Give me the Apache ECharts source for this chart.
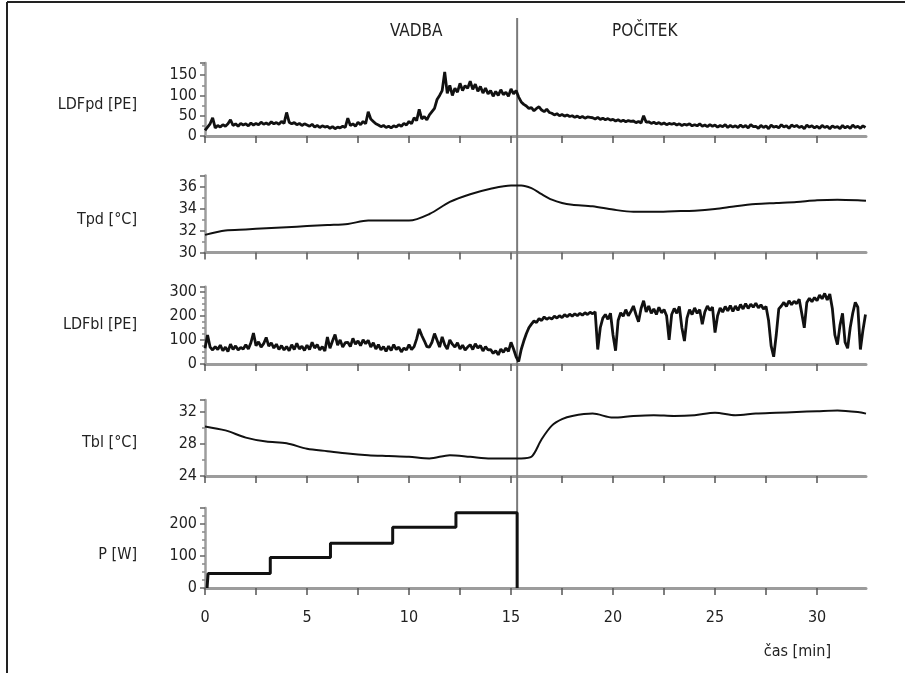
<!DOCTYPE html>
<html>
<head>
<meta charset="utf-8">
<script src="https://cdn.jsdelivr.net/npm/echarts@6/dist/echarts.min.js"></script>
<style>
  html, body { margin: 0; padding: 0; background: #fff; }
  #chart { width: 905px; height: 673px; }
</style>
</head>
<body>
<div id="chart"></div>
<script>
// laser doppler traces, one value every 1/8 minute (one row = one minute)
var LDF_STEP = 0.125;
var ldfpd = [
  14, 22, 30, 45, 20, 26, 22, 28,
  24, 30, 40, 26, 30, 24, 31, 27,
  30, 25, 32, 27, 31, 28, 34, 29,
  32, 28, 35, 30, 33, 29, 36, 31,
  58, 34, 30, 33, 28, 31, 26, 30,
  27, 24, 29, 22, 26, 21, 25, 22,
  24, 19, 23, 18, 22, 20, 24, 21,
  44, 26, 30, 24, 34, 28, 36, 30,
  60, 42, 36, 30, 27, 23, 26, 21,
  24, 20, 25, 22, 28, 24, 31, 27,
  36, 30, 45, 38, 66, 42, 48, 40,
  52, 60, 68, 90, 100, 112, 158, 105,
  125, 100, 118, 108, 130, 112, 124, 118,
  135, 115, 128, 110, 122, 106, 118, 104,
  112, 98, 110, 100, 114, 102, 108, 98,
  116, 104, 112, 96, 84, 78, 74, 68,
  70, 62, 68, 72, 64, 60, 66, 58,
  56, 52, 55, 50, 53, 49, 52, 48,
  50, 46, 49, 45, 48, 44, 47, 46,
  45, 42, 46, 41, 44, 40, 43, 39,
  41, 37, 40, 36, 39, 35, 38, 36,
  37, 33, 36, 32, 50, 34, 35, 31,
  34, 30, 33, 29, 32, 28, 31, 29,
  31, 27, 30, 26, 29, 27, 30, 25,
  28, 25, 30, 24, 27, 23, 28, 24,
  27, 22, 26, 23, 28, 21, 26, 22,
  25, 21, 27, 22, 26, 20, 28, 23,
  24, 19, 26, 21, 25, 18, 27, 22,
  24, 20, 28, 22, 25, 19, 27, 23,
  26, 21, 24, 18, 27, 22, 25, 20,
  24, 19, 26, 21, 24, 18, 25, 21,
  23, 18, 26, 20, 24, 19, 27, 21,
  24, 19, 25, 21
];
var ldfbl = [
  65, 120, 70, 58, 72, 60, 78, 55,
  70, 52, 82, 60, 75, 58, 68, 62,
  80, 62, 88, 128, 76, 92, 70, 84,
  110, 74, 88, 66, 82, 60, 76, 58,
  72, 55, 80, 60, 86, 62, 74, 56,
  78, 60, 90, 66, 80, 58, 72, 54,
  112, 65, 95, 122, 78, 100, 70, 88,
  90, 72, 106, 82, 96, 76, 100, 84,
  98, 70, 88, 62, 80, 58, 72, 52,
  74, 56, 80, 60, 70, 50, 66, 58,
  80, 60, 72, 104, 145, 118, 96, 72,
  70, 90, 126, 98, 70, 112, 80, 62,
  100, 82, 70, 88, 62, 78, 58, 70,
  80, 60, 84, 66, 76, 54, 72, 58,
  60, 44, 55, 38, 62, 48, 66, 52,
  90, 62, 30, 10, 60, 95, 125, 150,
  165, 178, 172, 188, 180, 195, 185, 192,
  186, 198, 190, 200, 192, 204, 196, 206,
  198, 208, 200, 210, 202, 212, 205, 214,
  208, 216, 60, 150, 190, 205, 185, 210,
  120, 55, 180, 212, 198, 225, 200, 218,
  240, 205, 175, 230, 262, 215, 240, 210,
  228, 205, 235, 212, 225, 200, 100, 205,
  230, 210, 238, 150, 95, 190, 225, 205,
  232, 210, 225, 165, 215, 240, 222, 235,
  130, 200, 232, 215, 238, 220, 242, 218,
  240, 222, 246, 228, 250, 230, 248, 235,
  252, 232, 245, 228, 238, 180, 75, 30,
  120, 228, 240, 255, 238, 262, 245, 260,
  250, 268, 210, 150, 255, 272, 258, 275,
  262, 285, 270, 292, 265, 290, 230, 120,
  80, 160, 210, 90, 65, 150, 210, 255,
  235, 60, 140, 205
];

// temperatures
var tTemp = [0, 1, 2, 3, 4, 5, 6, 7, 8, 9, 10, 11, 12, 13, 14, 15, 15.5, 16, 16.5, 17, 17.5, 18,
             19, 20, 21, 22, 23, 24, 25, 26, 27, 28, 29, 30, 31, 32, 32.4];
var tpd = [31.6, 32.0, 32.1, 32.2, 32.3, 32.4, 32.5, 32.6, 32.9, 32.9, 32.9, 33.5, 34.6, 35.3, 35.8, 36.1, 36.1, 35.85, 35.3, 34.8, 34.5, 34.35,
           34.2, 33.9, 33.7, 33.7, 33.75, 33.8, 33.95, 34.2, 34.4, 34.5, 34.6, 34.75, 34.8, 34.75, 34.7];
var tbl = [30.2, 29.7, 28.8, 28.3, 28.1, 27.4, 27.1, 26.8, 26.6, 26.5, 26.4, 26.2, 26.6, 26.4, 26.2, 26.2, 26.2, 26.4, 28.6, 30.3, 31.1, 31.5,
           31.8, 31.3, 31.5, 31.6, 31.5, 31.6, 31.9, 31.6, 31.8, 31.9, 32.0, 32.1, 32.2, 32.0, 31.8];

// load steps
var pTimes = [0.1, 0.15, 3.2, 6.15, 9.2, 12.3, 15.3];
var pWatts = [0, 45, 95, 140, 190, 235, 0];

var xTicks = [0, 2.5, 5, 7.5, 10, 12.5, 15, 17.5, 20, 22.5, 25, 27.5, 30];
var xLabels = [0, 5, 10, 15, 20, 25, 30];
var X_MAX = 32.4;
var switchTime = 15.3;   // end of exercise

var FONT = "'Liberation Sans Narrow', 'DejaVu Sans Condensed', Roboto, sans-serif";
var TXT = '#222';

function pairs(xs, ys) {
  var out = [];
  for (var i = 0; i < ys.length; i++) out.push([xs[i], ys[i]]);
  return out;
}
function sampled(step, ys) {
  var out = [];
  for (var i = 0; i < ys.length; i++) out.push([i * step, ys[i]]);
  return out;
}

// panel layout: [top, height, y min, y max, interval, minor split, axis name, name y]
var panels = [
  [63, 73, 0, 180, 50, 2, 'LDFpd [PE]', 105],
  [175.5, 77, 30, 37, 2, 2, 'Tpd [°C]', 220],
  [286.7, 77.3, 0, 320, 100, 4, 'LDFbl [PE]', 325],
  [400, 76, 24, 33.5, 4, 2, 'Tbl [°C]', 443],
  [508, 80, 0, 250, 100, 4, 'P [W]', 555]
];

var grids = [], xAxes = [], yAxes = [], names = [];
panels.forEach(function (p, i) {
  grids.push({ left: 205, right: 39, top: p[0], height: p[1] });
  xAxes.push({
    type: 'value', gridIndex: i, min: 0, max: X_MAX,
    axisLine: { onZero: false, lineStyle: { color: '#9c9c9c', width: 3 } },
    axisTick: { customValues: xTicks, length: 7, lineStyle: { color: '#555', width: 1.5 } },
    splitLine: { show: false },
    axisLabel: {
      show: i === panels.length - 1, customValues: xLabels,
      margin: 22, fontSize: 16, color: TXT, fontFamily: FONT
    }
  });
  var iv = p[4];
  yAxes.push({
    type: 'value', gridIndex: i, min: p[2], max: p[3], interval: iv,
    axisLine: { show: true, lineStyle: { color: '#9c9c9c', width: 2.5 } },
    axisTick: { show: true, length: 5, lineStyle: { color: '#666', width: 1.5 } },
    minorTick: { show: true, splitNumber: p[5], length: 3, lineStyle: { color: '#888', width: 1.5 } },
    splitLine: { show: false },
    axisLabel: {
      fontSize: 16, color: TXT, fontFamily: FONT, margin: 8,
      formatter: function (v) { return (v - p[2]) % iv === 0 ? String(v) : ''; }
    }
  });
  names.push({
    type: 'text', x: 137, y: p[7],
    style: { text: p[6], font: '16px ' + FONT, fill: TXT, align: 'right', verticalAlign: 'middle' }
  });
});

// overlay grid for the vertical line that crosses all panels
grids.push({ left: 205, right: 39, top: 18, height: 570 });
xAxes.push({ type: 'value', gridIndex: 5, min: 0, max: X_MAX, show: false });
yAxes.push({ type: 'value', gridIndex: 5, min: 0, max: 1, show: false });

function trace(idx, data, width, extra) {
  var s = {
    type: 'line', xAxisIndex: idx, yAxisIndex: idx, data: data,
    showSymbol: false, symbol: 'none', silent: true,
    lineStyle: { color: '#111', width: width }, z: 3
  };
  for (var k in extra) s[k] = extra[k];
  return s;
}

var option = {
  animation: false,
  backgroundColor: '#fff',
  grid: grids,
  xAxis: xAxes,
  yAxis: yAxes,
  series: [
    trace(0, sampled(LDF_STEP, ldfpd), 2.8, {}),
    trace(1, pairs(tTemp, tpd), 2, { smooth: 0.3 }),
    trace(2, sampled(LDF_STEP, ldfbl), 2.8, {}),
    trace(3, pairs(tTemp, tbl), 2, { smooth: 0.3 }),
    trace(4, pairs(pTimes, pWatts), 3, { step: 'end' }),
    {
      type: 'line', xAxisIndex: 5, yAxisIndex: 5, silent: true, symbol: 'none',
      data: [[switchTime, 0], [switchTime, 1]],
      lineStyle: { color: '#7a7a7a', width: 2 }, z: 1
    }
  ],
  graphic: [
    { type: 'line', shape: { x1: 7, y1: 2, x2: 905, y2: 2 }, style: { stroke: '#222', lineWidth: 2 } },
    { type: 'line', shape: { x1: 7, y1: 2, x2: 7, y2: 673 }, style: { stroke: '#222', lineWidth: 2 } },
    { type: 'text', left: 390, top: 23, style: { text: 'VADBA', font: '17px ' + FONT, fill: TXT } },
    { type: 'text', left: 612, top: 23, style: { text: 'POČITEK', font: '17px ' + FONT, fill: TXT } },
    { type: 'text', right: 74, top: 644, style: { text: 'čas [min]', font: '16px ' + FONT, fill: TXT } }
  ].concat(names)
};

var chart = echarts.init(document.getElementById('chart'), null, { renderer: 'canvas' });
chart.setOption(option);
</script>
</body>
</html>
